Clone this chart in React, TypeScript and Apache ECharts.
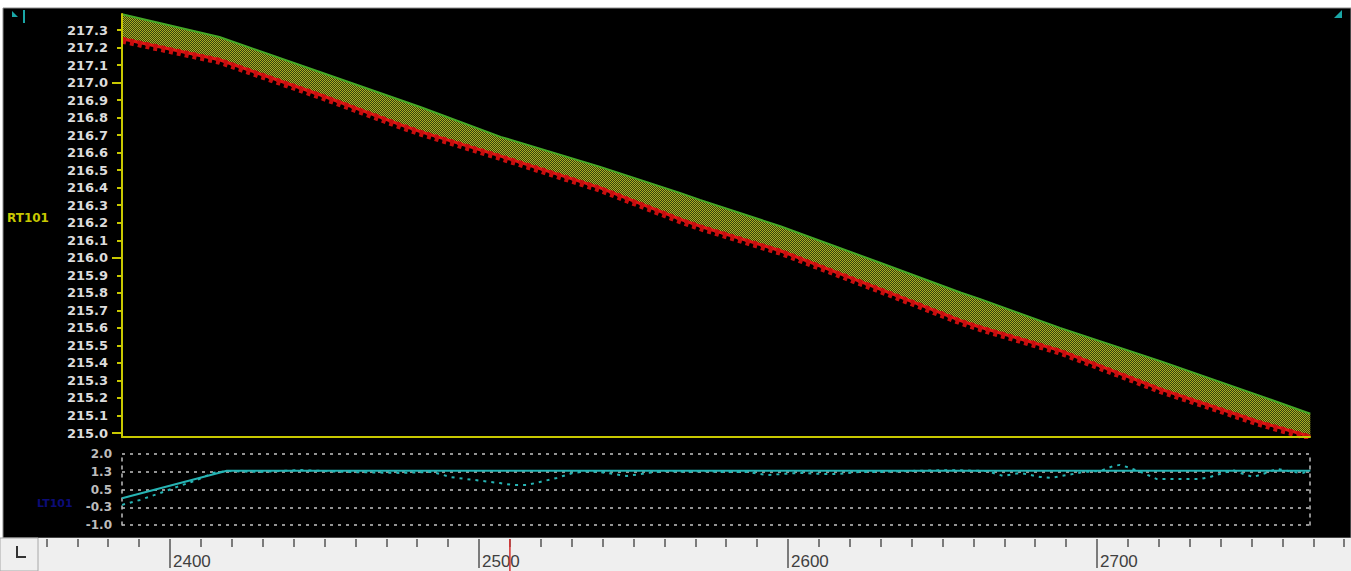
import React, { useEffect, useRef } from "react";
import * as echarts from "echarts";

// ---- main panel (RT101) ----
const bandX = [2384.5, 2416, 2448.5, 2474.5, 2481, 2507, 2539, 2565, 2571.5, 2597.5, 2630, 2656, 2662, 2688, 2720.5, 2753, 2769];
const upperRT = [217.39, 217.26, 217.06, 216.9, 216.86, 216.69, 216.52, 216.37, 216.33, 216.18, 215.97, 215.8, 215.765, 215.6, 215.41, 215.21, 215.11];
const lowerRT = [217.25, 217.13, 216.93, 216.76, 216.72, 216.58, 216.4, 216.22, 216.18, 216.04, 215.82, 215.64, 215.605, 215.47, 215.25, 215.06, 214.98];

// ---- lower panel (LT101) ----
const ltSolidX = [2384.5, 2418.4, 2769];
const ltSolid = [0.13, 1.29, 1.29];
const ltDashedX = [2384.5, 2390.3, 2396.8, 2402.3, 2408.7, 2413.9, 2418.4, 2429.1, 2442.1, 2457.3, 2474.4, 2485.1, 2490.6, 2496.1, 2501.3, 2506.8, 2511, 2515.5, 2519.7, 2525.2, 2530.4, 2535.9, 2541.4, 2547.9, 2554.4, 2560.8, 2567.3, 2572.5, 2578, 2586.7, 2593.2, 2598.4, 2603.9, 2610.4, 2616.8, 2623.3, 2629.8, 2638.5, 2652.4, 2664.4, 2669.6, 2675.1, 2681.6, 2684.8, 2690.3, 2695.5, 2701, 2705.2, 2707.4, 2710.7, 2714.9, 2719.4, 2722.7, 2733.3, 2736.6, 2740.8, 2744, 2747.2, 2750.5, 2753.7, 2758.3, 2763.4, 2766.7, 2768.9];
const ltDashed = [-0.15, 0.06, 0.35, 0.61, 0.9, 1.2, 1.28, 1.24, 1.32, 1.24, 1.2, 1.24, 1.03, 0.94, 0.86, 0.77, 0.69, 0.69, 0.82, 0.99, 1.2, 1.28, 1.2, 1.07, 1.2, 1.28, 1.24, 1.28, 1.24, 1.24, 1.11, 1.16, 1.2, 1.16, 1.16, 1.24, 1.24, 1.28, 1.32, 1.28, 1.07, 1.2, 1.03, 0.99, 1.11, 1.24, 1.28, 1.49, 1.54, 1.41, 1.2, 0.94, 0.94, 0.94, 1.03, 1.2, 1.32, 1.16, 1.03, 1.16, 1.37, 1.24, 1.2, 1.32];
const ltTickValues = [-1, -0.25, 0.5, 1.25, 2];

// ---- time strip ----
const cursorX = 2510;

const pair = (xs: number[], ys: number[]) => xs.map((x, i) => [x, ys[i]]);

export default function App() {
  const ref = useRef<HTMLDivElement>(null);
  useEffect(() => {
    if (!ref.current) return;
    const chart = echarts.init(ref.current, undefined, { renderer: "svg" });

    const cv = document.createElement("canvas");
    cv.width = 2;
    cv.height = 2;
    const ctx = cv.getContext("2d")!;
    ctx.fillStyle = "#34440e";
    ctx.fillRect(0, 0, 2, 2);
    ctx.fillStyle = "#acac22";
    ctx.fillRect(0, 0, 1, 1);
    ctx.fillRect(1, 1, 1, 1);

    const yellow = "#c8c800";
    const labelFont = "DejaVu Sans";
    const gb = { outerBoundsMode: "none", containLabel: false };

    chart.setOption({
      animation: false,
      backgroundColor: "#ffffff",
      grid: [
        { ...gb, left: 122, right: 41, top: 14, height: 423 },
        { ...gb, left: 122, right: 41, top: 30, height: 403 },
        { ...gb, left: 122, right: 41, top: 454, height: 71 },
        { ...gb, left: -139, right: -55, top: 539, height: 32 },
        { ...gb, left: 122, right: 41, top: 82.56, height: 350.44 },
      ],
      xAxis: [
        { gridIndex: 0, z: 10, type: "value", min: 2384.47, max: 2768.9, axisLine: { show: true, onZero: false, lineStyle: { color: yellow, width: 2 } }, axisTick: { show: false }, axisLabel: { show: false }, splitLine: { show: false } },
        { gridIndex: 1, type: "value", min: 2384.47, max: 2768.9, show: false },
        { gridIndex: 2, type: "value", min: 2384.47, max: 2768.9, show: false },
        {
          gridIndex: 3, type: "value", position: "top", min: 2300, max: 2800, interval: 100,
          axisLine: { show: true, onZero: false, lineStyle: { color: "#efefef", width: 0.5 } },
          axisTick: { show: true, inside: true, length: 29, lineStyle: { color: "#555", width: 1.5 } },
          minorTick: { show: true, splitNumber: 10, length: 8, lineStyle: { color: "#555", width: 1.5 } },
          axisLabel: {
            show: true, inside: true, align: "left", verticalAlign: "middle", margin: 22, padding: [0, 0, 0, 3],
            color: "#404040", fontSize: 17, fontFamily: "Liberation Sans",
            formatter: (v: number) => (v > 2360 && v < 2760 ? String(v) : ""),
          },
          splitLine: { show: false },
        },
        { gridIndex: 4, type: "value", min: 2384.47, max: 2768.9, show: false },
      ],
      yAxis: [
        { gridIndex: 0, z: 10, type: "value", min: 214.977, max: 217.391, axisLine: { show: true, onZero: false, lineStyle: { color: yellow, width: 2 } }, axisTick: { show: false }, axisLabel: { show: false }, splitLine: { show: false } },
        {
          gridIndex: 1, type: "value", min: 215, max: 217.3, interval: 0.1,
          axisLine: { show: false },
          axisTick: { show: true, length: 5, lineStyle: { color: yellow, width: 2 } },
          axisLabel: { show: true, margin: 14, color: "#dcdcdc", fontSize: 13, fontWeight: "bold", fontFamily: labelFont, formatter: (v: number) => v.toFixed(1) },
          splitLine: { show: false },
        },
        {
          gridIndex: 2, type: "value", min: -1, max: 2,
          axisLine: { show: true, onZero: false, lineStyle: { color: "#bdbdbd", width: 1.5, type: [3, 5] } },
          axisTick: { show: false, customValues: ltTickValues },
          axisLabel: { show: true, customValues: ltTickValues, margin: 10, padding: [5, 0, 0, 0], color: "#bcbcbc", fontSize: 12, fontWeight: "bold", fontFamily: labelFont, formatter: (v: number) => v.toFixed(1) },
          splitLine: { show: true, lineStyle: { color: "#c4c4c4", width: 1.5, type: [3, 5] } },
        },
        {
          gridIndex: 2, type: "value", position: "right", min: -1, max: 2,
          axisLine: { show: true, onZero: false, lineStyle: { color: "#bdbdbd", width: 1.5, type: [3, 5] } },
          axisTick: { show: false }, axisLabel: { show: false }, splitLine: { show: false },
        },
        { gridIndex: 3, type: "value", min: 0, max: 1, show: false },
        {
          gridIndex: 4, type: "value", min: 215, max: 217, interval: 1,
          axisLine: { show: false },
          axisTick: { show: true, length: 10, lineStyle: { color: yellow, width: 2 } },
          axisLabel: { show: false }, splitLine: { show: false },
        },
      ],
      series: [
        {
          type: "line", name: "RT101 upper", xAxisIndex: 0, yAxisIndex: 0, z: 2,
          data: pair(bandX, upperRT), showSymbol: false, symbol: "none",
          lineStyle: { color: "#44a826", width: 2 },
          areaStyle: { color: { image: cv, repeat: "repeat" }, opacity: 1, origin: "start" },
        },
        {
          type: "line", name: "RT101 lower mask", xAxisIndex: 0, yAxisIndex: 0, z: 3,
          data: pair(bandX, lowerRT), showSymbol: false, symbol: "none",
          lineStyle: { width: 0, opacity: 0 },
          areaStyle: { color: "#000000", opacity: 1, origin: "start" },
        },
        {
          type: "line", name: "RT101 lower", xAxisIndex: 0, yAxisIndex: 0, z: 4,
          data: pair(bandX, lowerRT), showSymbol: false, symbol: "none",
          lineStyle: { color: "#e01414", width: 3 },
        },
        {
          type: "line", name: "RT101 teeth", xAxisIndex: 0, yAxisIndex: 0, z: 5,
          data: pair(bandX, lowerRT), showSymbol: false, symbol: "none",
          lineStyle: { color: "#c81010", width: 4, type: [4, 4], shadowColor: "#c81010", shadowBlur: 0, shadowOffsetY: 3 },
        },
        {
          type: "line", name: "LT101 dashed", xAxisIndex: 2, yAxisIndex: 2, z: 4,
          data: pair(ltDashedX, ltDashed), showSymbol: false, symbol: "none",
          lineStyle: { color: "#26b4b4", width: 2, type: [3, 5] },
        },
        {
          type: "line", name: "LT101", xAxisIndex: 2, yAxisIndex: 2, z: 5,
          data: pair(ltSolidX, ltSolid), showSymbol: false, symbol: "none",
          lineStyle: { color: "#26b4b4", width: 2 },
        },
        {
          type: "line", name: "cursor", xAxisIndex: 3, yAxisIndex: 4, z: 6,
          data: [[cursorX, 0], [cursorX, 1]], showSymbol: false, symbol: "none",
          lineStyle: { color: "#d83030", width: 1.5 },
        },
      ],
      graphic: [
        { type: "rect", z: -100, shape: { x: 3, y: 8, width: 1348, height: 530 }, style: { fill: "#000000", stroke: "#8c8c8c", lineWidth: 1 } },
        { type: "rect", z: -100, shape: { x: 0, y: 538, width: 1351, height: 33 }, style: { fill: "#efefef" } },
        { type: "rect", z: 100, shape: { x: 0, y: 538, width: 38, height: 33 }, style: { fill: "#efefef", stroke: "#a8a8a8", lineWidth: 1 } },
        { type: "polyline", z: 101, shape: { points: [[17, 546], [17, 557], [26, 557]] }, style: { stroke: "#333333", lineWidth: 2, fill: null } },
        { type: "polygon", z: 101, shape: { points: [[12, 11], [12, 17], [18, 17]] }, style: { fill: "#1aa6a6" } },
        { type: "line", z: 101, shape: { x1: 24, y1: 10, x2: 24, y2: 23 }, style: { stroke: "#1aa6a6", lineWidth: 2 } },
        { type: "polygon", z: 101, shape: { points: [[1342, 10], [1342, 18], [1334, 18]] }, style: { fill: "#1aa6a6" } },
        { type: "text", z: 101, x: 7, y: 218, style: { text: "RT101", fill: yellow, font: "bold 12px DejaVu Sans", verticalAlign: "middle" } },
        { type: "text", z: 101, x: 37, y: 503, style: { text: "LT101", fill: "#0c0c78", font: "bold 11px DejaVu Sans", verticalAlign: "middle" } },
      ],
    });
    return () => chart.dispose();
  }, []);
  return <div ref={ref} style={{ position: "fixed", left: 0, top: 0, width: 1351, height: 571 }} />;
}
